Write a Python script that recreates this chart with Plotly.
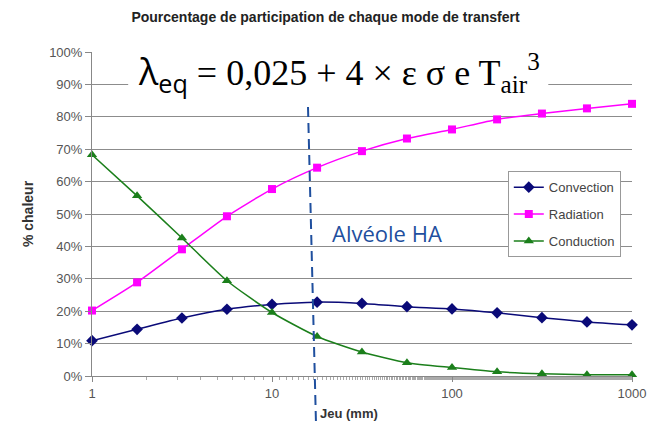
import plotly.graph_objects as go

jeu_mm = [1, 1.78, 3.16, 5.62, 10, 17.8, 31.6, 56.2, 100, 178, 316, 562, 1000]
convection = [10.9, 14.4, 17.9, 20.6, 22.1, 22.8, 22.4, 21.4, 20.7, 19.5, 18.0, 16.7, 15.8]
radiation = [20.2, 28.9, 39.1, 49.3, 57.7, 64.3, 69.4, 73.3, 76.1, 79.2, 81.0, 82.6, 84.0]
conduction = [68.3, 55.6, 42.6, 29.4, 19.6, 12.2, 7.4, 4.1, 2.6, 1.3, 0.7, 0.4, 0.4]
y_ticks = [0, 10, 20, 30, 40, 50, 60, 70, 80, 90, 100]
y_labels = [f"{v}%" for v in y_ticks]
x_ticks = [1, 10, 100, 1000]

fig = go.Figure()
series = [
    ("Convection", convection, "#0a0a78", "diamond", 9),
    ("Radiation", radiation, "#ff00ff", "square", 8),
    ("Conduction", conduction, "#1b7f1b", "triangle-up", 9),
]
for i, (name, vals, col, sym, sz) in enumerate(series):
    fig.add_trace(go.Scatter(
        x=jeu_mm, y=vals, name=name, mode="lines+markers",
        line=dict(color=col, width=1.5, shape="spline", smoothing=0.6),
        marker=dict(symbol=sym, size=sz, color=col),
        cliponaxis=False, legendgroup=str(i),
    ))

fig.update_layout(
    width=651, height=422,
    margin=dict(l=92, r=19, t=52, b=46),
    paper_bgcolor="white", plot_bgcolor="white",
    font=dict(family="Liberation Sans, Arial", size=12, color="#444"),
    title=dict(text="<b>Pourcentage de participation de chaque mode de transfert</b>",
               x=0.5, xanchor="center", y=0.96, yanchor="middle",
               font=dict(size=14, color="#222")),
    showlegend=True,
    legend=dict(x=0.77, y=0.632, xanchor="left", yanchor="top",
                bgcolor="white", bordercolor="#999", borderwidth=1,
                font=dict(size=13, color="#444"), tracegroupgap=7,
                itemwidth=30),
)
fig.update_xaxes(
    type="log", range=[0, 3], tickvals=x_ticks, ticktext=[str(v) for v in x_ticks],
    showgrid=False, showline=True, linecolor="#888", linewidth=1,
    ticks="outside", ticklen=5, tickcolor="#888", automargin=False,
    minor=dict(ticks="outside", ticklen=3, tickcolor="#aaa", showgrid=False),
    zeroline=False, tickfont=dict(size=13, color="#555"),
)
fig.update_yaxes(
    range=[0, 100], tickvals=y_ticks, ticktext=y_labels, automargin=False,
    showgrid=True, gridcolor="#8c8c8c", gridwidth=1,
    showline=True, linecolor="#888", ticks="outside", ticklen=6, tickcolor="#888",
    zeroline=False, tickfont=dict(size=13, color="#555"),
    title=dict(text="<b>% chaleur</b>", font=dict(size=14, color="#333"), standoff=12),
)

# white box behind formula
fig.add_shape(type="rect", xref="paper", yref="paper", x0=0.067, x1=0.845, y0=0.85, y1=1.03,
              fillcolor="white", line=dict(width=0), layer="above")
fig.add_annotation(
    xref="paper", yref="paper", x=0.458, y=0.935, xanchor="center", yanchor="middle",
    showarrow=False,
    text=("<span style='font-family:Open Sans'>λ<sub>eq</sub></span>"
          " = 0,025 + 4 × ε σ e T<sub>air</sub><sup>3</sup>"),
    font=dict(family="Liberation Serif, Times New Roman", size=36, color="black"),
)
# dashed vertical line "Alvéole HA"
fig.add_shape(type="line", xref="paper", yref="paper", x0=0.40, y0=0.83, x1=0.415, y1=-0.16,
              line=dict(color="#1f4f9e", width=2, dash="10px,6px"), layer="above")
fig.add_annotation(
    xref="paper", yref="paper", x=0.44, y=0.44, xanchor="left", yanchor="middle",
    showarrow=False, text="Alvéole HA",
    font=dict(family="Open Sans", size=22, color="#1f4f9e"),
)
fig.add_annotation(
    xref="paper", yref="paper", x=0.476, y=-0.085, xanchor="center", yanchor="top",
    showarrow=False, text="<b>Jeu (mm)</b>",
    font=dict(size=13, color="#333"),
)

fig.write_html(
    "out.html",
    config={"displayModeBar": False},
    post_script="document.body.style.margin='0';document.body.style.overflow='hidden';",
)
